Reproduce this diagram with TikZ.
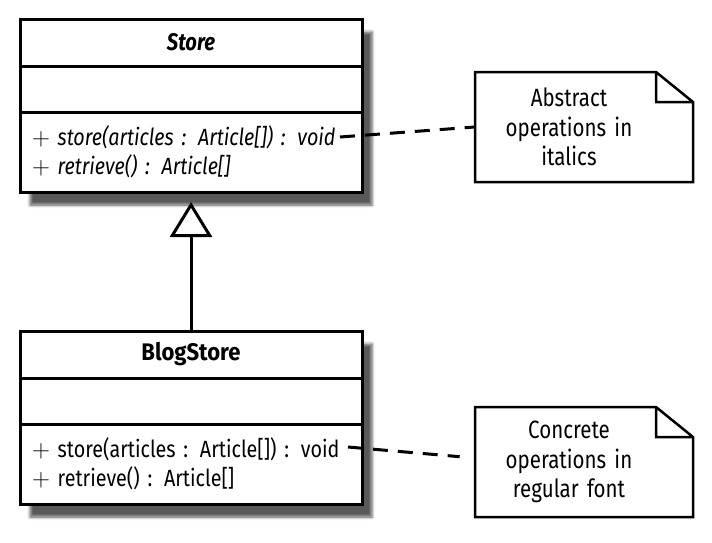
\documentclass[tikz,border=0pt]{standalone}
\usepackage{fontspec}
\setmainfont{Fira Sans}[FakeStretch=0.84,WordSpace=0.4,BoldFeatures={FakeStretch=0.92}]
\newfontfamily\notefont{Fira Sans}[FakeStretch=0.82,WordSpace=0.6]
\usetikzlibrary{positioning,calc,arrows.meta,shadows.blur,backgrounds}

\newcommand{\noteframe}[1]{%
  \draw[noteline] ($(#1.center)+(-94,-55)$) -- ($(#1.center)+(87,-55)$) -- ($(#1.center)+(124,-25)$)
    -- ($(#1.center)+(124,55)$) -- ($(#1.center)+(-94,55)$) -- cycle
    ($(#1.center)+(87,-55)$) |- ($(#1.center)+(124,-25)$);}
\newcommand{\pub}{\(+\)}

\begin{document}
\begin{tikzpicture}[x=1pt,y=-1pt,thick,
  part/.style={draw,line width=3pt,fill=white,minimum width=342pt,inner sep=0pt,outer sep=0pt,anchor=north},
  title/.style={part,minimum height=47pt,font=\fontsize{24}{29}\selectfont\bfseries},
  attrs/.style={part,minimum height=46pt},
  ops/.style={part,minimum height=80pt,text width=318pt,inner xsep=12pt,align=left,font=\fontsize{23.5}{29}\selectfont},
  class shadow/.style={fill=white,blur shadow={shadow xshift=10pt,shadow yshift=-13pt,shadow blur radius=3pt,shadow opacity=65}},
  note/.style={text width=188pt,inner sep=0pt,align=center,font=\notefont\fontsize{25}{29.5}\selectfont},
  noteline/.style={line width=2.5pt,line join=miter},
  dash line/.style={line width=3pt,dash pattern=on 15pt off 10pt},
  inherit/.style={line width=3pt,-{Triangle[open,fill=white,width=42pt,length=35pt]}}]

      \useasboundingbox (0,0) rectangle (712,542);

      \node[title] (store) at (191,19) {\itshape Store};
      \node[attrs, below=0pt of store] (store attrs) {};
      \node[ops, below=0pt of store attrs] (store ops) {\pub{} \textit{store(articles : Article[]) : void}\\\pub{} \textit{retrieve() : Article[]}};

      \node[title] (blog) at (191,331) {BlogStore};
      \node[attrs, below=0pt of blog] (blog attrs) {};
      \node[ops, below=0pt of blog attrs] (blog ops) {\pub{} store(articles : Article[]) : void\\\pub{} retrieve() : Article[]};

      % shadows behind the two classes
      \begin{scope}[on background layer]
        \path[class shadow] (store.north west) rectangle (store ops.south east);
        \path[class shadow] (blog.north west) rectangle (blog ops.south east);
      \end{scope}

      \node[note] (abstract note) at (569,127) {Abstract\\operations in\\italics};
      \noteframe{abstract note}
      \node[note] (concrete note) at (569,462) {Concrete\\operations in\\regular font};
      \noteframe{concrete note}

      \coordinate (store void) at (340,137);
      \coordinate (blog void) at (348,447);

      \path
      (blog) edge[inherit, shorten >=10pt] (store ops)
      (store void) edge[dash line] (abstract note.west)
      (blog void) edge[dash line, shorten >=15pt] ([yshift=4pt]concrete note.west)
      ;

    \end{tikzpicture}
\end{document}
